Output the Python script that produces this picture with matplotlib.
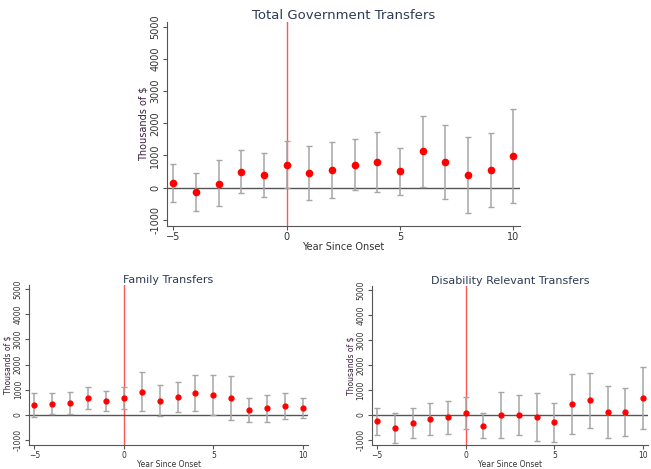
import matplotlib
matplotlib.use('Agg')
import matplotlib.pyplot as plt
import numpy as np

years = list(range(-5, 11))

# Total government transfers
total_pt = [130, -130, 120, 475, 390, 710, 445, 545, 710, 780, 505, 1125, 795, 380, 545, 990]
total_hi = [740, 460, 845, 1165, 1080, 1450, 1300, 1430, 1505, 1720, 1235, 2240, 1960, 1565, 1710, 2450]
total_lo = [-460, -720, -590, -185, -310, -10, -390, -330, -80, -145, -240, 10, -370, -805, -620, -485]

# Family transfers
fam_pt = [400, 440, 465, 655, 530, 655, 915, 555, 710, 865, 785, 645, 180, 245, 350, 245]
fam_hi = [865, 865, 890, 1095, 940, 1095, 1715, 1175, 1300, 1600, 1590, 1560, 645, 775, 850, 645]
fam_lo = [-90, 10, 40, 205, 130, 230, 130, -50, 100, 140, -25, -220, -285, -285, -170, -155]

# Disability relevant transfers
dis_pt = [-265, -540, -330, -170, -105, 80, -435, -15, 0, -80, -305, 435, 580, 105, 95, 675]
dis_hi = [290, 55, 265, 465, 545, 715, 80, 900, 780, 860, 475, 1655, 1695, 1140, 1070, 1930]
dis_lo = [-820, -1140, -950, -805, -755, -555, -950, -940, -795, -1045, -1085, -780, -530, -915, -870, -570]

yticks = [-1000, 0, 1000, 2000, 3000, 4000, 5000]
xticks = [-5, 0, 5, 10]


def panel(ax, titulo, pt, lo, hi, fs, ms, cap):
    x = np.array(years)
    pt = np.array(pt)
    err = [pt - np.array(lo), np.array(hi) - pt]
    ax.axvline(0, color='#ff5555', lw=1.0, zorder=1)
    ax.axhline(0, color='#555555', lw=1.0, zorder=1)
    ax.errorbar(x, pt, yerr=err, fmt='none', ecolor='#a6a6a6', elinewidth=1.1,
                capsize=cap, capthick=1.0, zorder=2)
    ax.plot(x, pt, 'o', color='#ff0000', ms=ms, zorder=3)
    ax.set_xlim(-5.3, 10.3)
    ax.set_ylim(-1200, 5170)
    ax.set_xticks(xticks)
    ax.set_yticks(yticks)
    ax.set_yticklabels([str(t) for t in yticks], rotation=90, va='center')
    ax.tick_params(labelsize=fs, length=3, width=0.8, color='#555555', labelcolor='#333333', pad=1.5)
    for s in ['top', 'right']:
        ax.spines[s].set_visible(False)
    for s in ['left', 'bottom']:
        ax.spines[s].set_color('#555555')
        ax.spines[s].set_linewidth(0.8)
    ax.set_title(titulo, fontsize=fs + 2.5, color='#2e3b55', pad=1)
    ax.set_xlabel('Year Since Onset', fontsize=fs, color='#333333', labelpad=0)
    ax.set_ylabel('Thousands of $', fontsize=fs, color='#3b1f3f', labelpad=1)


fig = plt.figure(figsize=(6.51, 4.69), dpi=100)
ax1 = fig.add_axes([0.256, 0.518, 0.543, 0.436])
ax2 = fig.add_axes([0.0445, 0.052, 0.429, 0.340])
ax3 = fig.add_axes([0.571, 0.052, 0.425, 0.338])

panel(ax1, 'Total Government Transfers', total_pt, total_lo, total_hi, 7, 4.5, 2.5)
panel(ax2, 'Family Transfers', fam_pt, fam_lo, fam_hi, 5.5, 3.5, 2)
panel(ax3, 'Disability Relevant Transfers', dis_pt, dis_lo, dis_hi, 5.5, 3.5, 2)

plt.savefig('out.png', dpi=100)
